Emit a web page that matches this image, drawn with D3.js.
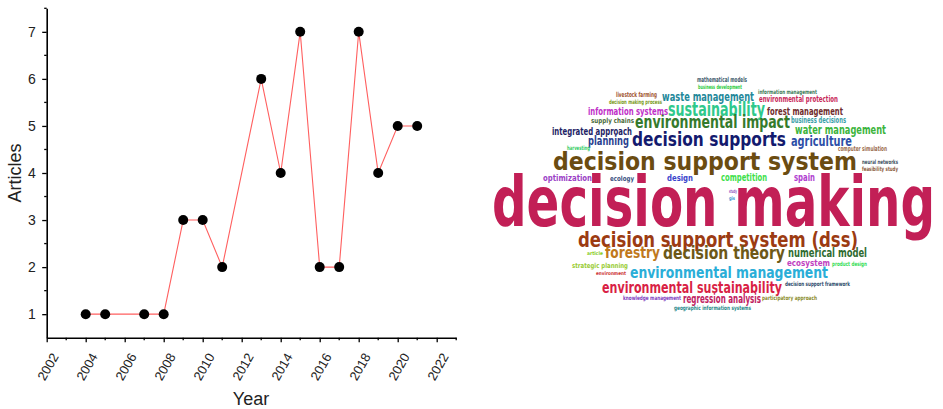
<!DOCTYPE html>
<html>
<head>
<meta charset="utf-8">
<script src="https://cdn.jsdelivr.net/npm/d3@7"></script>
<style>
  body { margin: 0; background: #fff; }
  svg { display: block; }
</style>
</head>
<body>
<div id="chart"></div>
<script>
var years = [2004, 2005, 2007, 2008, 2009, 2010, 2011, 2013, 2014, 2015, 2016, 2017, 2018, 2019, 2020, 2021]
var articles = [1, 1, 1, 1, 3, 3, 2, 6, 4, 7, 2, 2, 7, 4, 5, 5]
var yearTicks = d3.range(2002, 2023, 2)
var articleTicks = [1, 2, 3, 4, 5, 6, 7]

// keyword cloud: words and how often they occur
var words = ["decision making", "decision support system", "decision support system (dss)", "decision supports",
  "sustainability", "environmental impact", "decision theory", "environmental management",
  "environmental sustainability", "forestry", "agriculture", "waste management", "water management",
  "numerical model", "regression analysis", "planning", "information systems", "integrated approach",
  "forest management", "competition", "spain", "design", "environmental protection", "optimization",
  "ecosystem", "business decisions", "ecology", "supply chains", "livestock farming", "strategic planning",
  "mathematical models", "computer simulation", "neural networks", "feasibility study",
  "knowledge management", "participatory approach", "decision support framework",
  "decision making process", "information management", "business development",
  "geographic information systems", "harvesting", "product design", "article", "environment", "study", "gis"]
var counts = [66, 21, 17, 16, 15, 13, 13, 12, 12, 11, 10, 9, 8, 8, 8, 8, 7, 7, 7, 6, 6, 5, 5, 5,
  4, 4, 3, 3, 3, 3, 3, 3, 2, 2, 2, 2, 2, 2, 2, 2, 2, 2, 2, 1, 1, 1, 1]

// where each word sits in the cloud: [left, baseline, width]
var placement = [[492,226,443],[553,170,304],[578,247,280],[632,146,154],
  [668,116,97],[635,128,155],[663,259,122],[630,278,198],
  [602,293,180],[605,258,55],[791,146,61],[662,101,92],[795,134,91],
  [788,257,79],[683,303,78],[588,145,41],[588,115,80],[552,135,80],
  [767,115,76],[721,181,46],[794,181,21],[667,181,26],[759,102,79],[543,181,49],
  [787,266,43],[791,123,55],[610,181,24],[591,123,43],[616,97,41],[572,268,56],
  [697,82,50],[838,151,49],[862,164,36],[862,171,36],
  [623,300,58],[762,300,55],[785,286,65],
  [609,104,53],[758,94,59],[698,89,44],
  [674,310,77],[567,150,23],[832,266,35],[587,255,16],[596,275,30],[729,193,8],[729,200,6]]
var palette = ["#c21f56","#6b4c11","#9c3b12","#131a6e",
  "#2fc98c","#357a2c","#6d5817","#2aaed8",
  "#d91f45","#c0781c","#2d4fa8","#23889a","#3cb43c",
  "#2e6b30","#c0205e","#2a3f8f","#c030c8","#1e2466",
  "#6e2c2c","#3de04a","#b040d0","#3a44cc","#c8285a","#9b3fc6",
  "#c040c0","#3aa0a8","#3a5080","#4a6a3a","#a0522d","#99cc33",
  "#3d5a6c","#9a6a4a","#3d5060","#8a5a3a",
  "#8040c0","#8a8a2a","#2d4a6a",
  "#7a9a20","#3b7a57","#2ecc40",
  "#2a8a8a","#33cc66","#33dd55","#88cc22","#cc3333","#9050c0","#3a90d0"]

var width = 943
var height = 409

var svg = d3.select("#chart").append("svg")
    .attr("width", width)
    .attr("height", height)

addLineChart(svg)
addCloud(svg)

function addLineChart(svg){
    var x = d3.scaleLinear().domain([2002, 2023]).range([46.7, 456.2])
    var y = d3.scaleLinear().domain([0.5, 7.5]).range([337.7, 8.3])
    var font = "'Liberation Sans', Arial, sans-serif"

    // minor ticks
    svg.append("g").selectAll("line.mx")
        .data(d3.range(2003, 2024, 2))
        .enter().append("line")
        .attr("x1", function(d){ return x(d) }).attr("x2", function(d){ return x(d) })
        .attr("y1", y(0.5)).attr("y2", y(0.5) + 2.5)
        .attr("stroke", "#000").attr("stroke-width", 1.3)
    svg.append("g").selectAll("line.my")
        .data(d3.range(1.5, 8, 1))
        .enter().append("line")
        .attr("y1", function(d){ return y(d) }).attr("y2", function(d){ return y(d) })
        .attr("x1", x(2002)).attr("x2", x(2002) - 2.5)
        .attr("stroke", "#000").attr("stroke-width", 1.3)

    var xAxis = svg.append("g")
        .attr("transform", "translate(0," + y(0.5) + ")")
        .call(d3.axisBottom(x).tickValues(yearTicks).tickSize(4.5).tickSizeOuter(0).tickFormat(d3.format("d")))
    xAxis.select(".domain").attr("stroke-width", 1.6)
    xAxis.selectAll(".tick line").attr("stroke-width", 1.3)
    xAxis.selectAll(".tick text")
        .attr("font-family", font).attr("font-size", 13).attr("fill", "#222")
        .attr("text-anchor", "end")
        .attr("x", 0).attr("y", 0).attr("dy", "0.35em")
        .attr("transform", "translate(8,16.5) rotate(-60)")

    var yAxis = svg.append("g")
        .attr("transform", "translate(" + x(2002) + ",0)")
        .call(d3.axisLeft(y).tickValues(articleTicks).tickSize(4.5).tickSizeOuter(0).tickFormat(d3.format("d")))
    yAxis.select(".domain").attr("stroke-width", 1.6)
    yAxis.selectAll(".tick line").attr("stroke-width", 1.3)
    yAxis.selectAll(".tick text")
        .attr("font-family", font).attr("font-size", 14).attr("fill", "#222")
        .attr("x", -11)

    var line = d3.line()
        .x(function(d, i){ return x(years[i]) })
        .y(function(d){ return y(d) })
    svg.append("path")
        .datum(articles)
        .attr("d", line)
        .attr("fill", "none")
        .attr("stroke", "#ff5f5f")
        .attr("stroke-width", 1.1)

    svg.append("g").selectAll("circle")
        .data(articles)
        .enter().append("circle")
        .attr("cx", function(d, i){ return x(years[i]) })
        .attr("cy", function(d){ return y(d) })
        .attr("r", 5)
        .attr("fill", "#000")

    svg.append("text")
        .attr("transform", "translate(21,173) rotate(-90)")
        .attr("text-anchor", "middle")
        .attr("font-family", font).attr("font-size", 18).attr("fill", "#222")
        .text("Articles")
    svg.append("text")
        .attr("x", 251).attr("y", 405)
        .attr("text-anchor", "middle")
        .attr("font-family", font).attr("font-size", 18).attr("fill", "#222")
        .text("Year")
}

function addCloud(svg){
    var size = d3.scaleLinear().domain([1, 66]).range([5, 70])
    svg.append("g").selectAll("text")
        .data(words)
        .enter().append("text")
        .attr("x", function(d, i){ return placement[i][0] })
        .attr("y", function(d, i){ return placement[i][1] })
        .attr("textLength", function(d, i){ return placement[i][2] })
        .attr("lengthAdjust", "spacingAndGlyphs")
        .attr("font-family", "'Liberation Sans Narrow', 'DejaVu Sans Condensed', sans-serif")
        .attr("font-weight", "bold")
        .attr("font-size", function(d, i){ return size(counts[i]) })
        .attr("fill", function(d, i){ return palette[i] })
        .text(function(d){ return d })
}
</script>
</body>
</html>
